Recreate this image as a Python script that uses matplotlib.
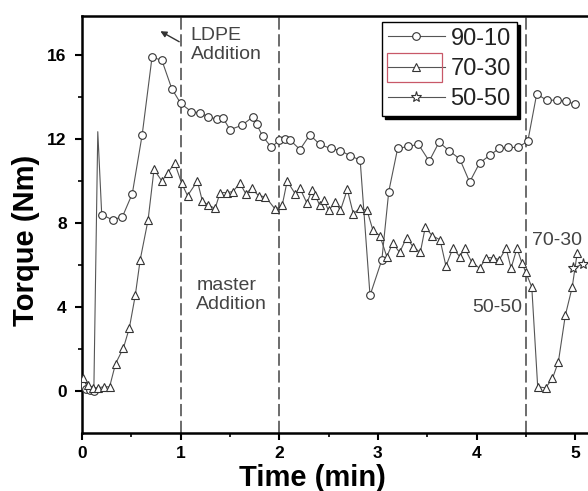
import numpy as np
import matplotlib
matplotlib.use("Agg")
import matplotlib.pyplot as plt
from matplotlib.patches import Rectangle

plt.rcParams['font.family'] = ['Liberation Sans', 'DejaVu Sans']

# Torque traces during mixing (time in min, torque in Nm)
time_9010 = [0.00, 0.04, 0.08, 0.12, 0.16, 0.20, 0.31, 0.41, 0.51, 0.61, 0.71, 0.81,
             0.91, 1.00, 1.11, 1.20, 1.28, 1.37, 1.43, 1.50, 1.62, 1.73, 1.77, 1.83,
             1.92, 2.00, 2.06, 2.11, 2.21, 2.31, 2.41, 2.52, 2.62, 2.72, 2.82, 2.92,
             3.04, 3.11, 3.20, 3.31, 3.41, 3.52, 3.62, 3.72, 3.83, 3.93, 4.03, 4.14,
             4.23, 4.32, 4.42, 4.52, 4.61, 4.71, 4.82, 4.91, 5.00]
torque_9010 = [0.3, 0.1, 0.05, 0.0, 12.35, 8.4, 8.15, 8.3, 9.4, 12.2, 15.9, 15.75,
               14.4, 13.7, 13.3, 13.25, 13.05, 12.95, 13.0, 12.45, 12.65, 13.05, 12.7, 12.15,
               11.6, 11.95, 12.0, 11.95, 11.5, 12.2, 11.75, 11.55, 11.45, 11.2, 11.0, 4.55,
               6.25, 9.5, 11.55, 11.65, 11.75, 10.95, 11.85, 11.45, 11.05, 9.95, 10.85, 11.25,
               11.55, 11.6, 11.6, 11.9, 14.15, 13.85, 13.85, 13.8, 13.65]

time_7030 = [0.01, 0.06, 0.11, 0.16, 0.22, 0.28, 0.34, 0.42, 0.48, 0.54, 0.59, 0.67,
             0.73, 0.81, 0.87, 0.94, 1.01, 1.07, 1.17, 1.22, 1.28, 1.35, 1.40, 1.47,
             1.53, 1.60, 1.66, 1.72, 1.79, 1.86, 1.96, 2.03, 2.08, 2.16, 2.21, 2.28,
             2.33, 2.36, 2.41, 2.45, 2.50, 2.57, 2.62, 2.69, 2.75, 2.82, 2.89, 2.95,
             3.02, 3.09, 3.15, 3.22, 3.29, 3.36, 3.43, 3.48, 3.55, 3.63, 3.69, 3.76,
             3.83, 3.88, 3.95, 4.03, 4.10, 4.17, 4.23, 4.30, 4.35, 4.41, 4.46, 4.50,
             4.56, 4.62, 4.70, 4.77, 4.83, 4.90, 4.97, 5.02]
torque_7030 = [0.6, 0.3, 0.15, 0.15, 0.2, 0.2, 1.3, 2.05, 3.0, 4.55, 6.25, 8.15,
               10.55, 10.0, 10.4, 10.85, 9.9, 9.3, 10.0, 9.05, 8.85, 8.7, 9.45, 9.45,
               9.5, 9.9, 9.4, 9.65, 9.3, 9.25, 8.65, 8.85, 10.0, 9.4, 9.65, 8.95,
               9.55, 9.35, 8.85, 9.1, 8.6, 9.0, 8.6, 9.6, 8.45, 8.7, 8.6, 7.65,
               7.4, 6.4, 7.05, 6.6, 7.3, 6.85, 6.6, 7.8, 7.4, 7.2, 5.95, 6.8,
               6.4, 6.8, 6.15, 5.85, 6.35, 6.35, 6.25, 6.8, 5.85, 6.8, 6.1, 5.65,
               4.95, 0.2, 0.15, 0.6, 1.4, 3.6, 4.95, 6.55]

time_5050 = [4.98, 5.08]
torque_5050 = [5.85, 6.05]

event_times = [1.0, 2.0, 4.5]

x_ticks = [0, 1, 2, 3, 4, 5]
y_ticks = [0, 4, 8, 12, 16]

fig = plt.figure(figsize=(5.88, 4.91), dpi=100)
ax = fig.add_axes([82 / 588, 58 / 491, 506 / 588, 417 / 491])

line_col = '#555555'
mk_col = '#333333'

# the short torque spike right after loading carries no symbol
spike = [i for i, (t, q) in enumerate(zip(time_9010, torque_9010)) if t < 0.2 and q > 10]
marks_9010 = [i for i in range(len(time_9010)) if i not in spike]

ax.plot(time_9010, torque_9010, color=line_col, lw=0.8, marker='o', ms=5.5,
        mfc='white', mec=mk_col, mew=0.8, markevery=marks_9010, label='90-10', zorder=3)
ax.plot(time_7030, torque_7030, color=line_col, lw=0.8, marker='^', ms=6,
        mfc='white', mec=mk_col, mew=0.8, label='70-30', zorder=3)
ax.plot(time_5050, torque_5050, color=line_col, lw=0.8, marker='*', ms=8,
        mfc='white', mec=mk_col, mew=0.8, label='50-50', zorder=3)

for t in event_times:
    ax.axvline(t, color='#444444', lw=1.1, dashes=(8, 3), zorder=2)

ax.set_xlim(0, 5.13)
ax.set_ylim(-2, 17.86)
ax.set_xticks(x_ticks)
ax.set_yticks(y_ticks)
ax.set_xticks(np.arange(0.5, 5.1, 1.0), minor=True)
ax.set_yticks(np.arange(2, 17, 4), minor=True)

for side in ('left', 'bottom', 'top'):
    ax.spines[side].set_linewidth(1.8)
ax.spines['right'].set_visible(False)

ax.tick_params(which='major', direction='out', length=5, width=1.5, labelsize=12.5, pad=6)
ax.tick_params(axis='x', which='major', pad=4)
ax.tick_params(which='minor', direction='out', length=3, width=1.2)
ax.tick_params(top=False, right=False, which='both')
for lab in ax.get_xticklabels() + ax.get_yticklabels():
    lab.set_fontweight('bold')

ax.set_xlabel('Time (min)', fontsize=21, fontweight='bold')
ax.set_ylabel('Torque (Nm)', fontsize=21, fontweight='bold')
ax.xaxis.set_label_coords(0.455, -0.075)
ax.yaxis.set_label_coords(-0.083, 0.463)

txt_col = '#444444'
ax.annotate('', xy=(0.77, 17.2), xytext=(1.01, 16.57),
            arrowprops=dict(arrowstyle='-|>', color='#333333', lw=1.0, mutation_scale=9))
ax.text(1.10, 17.35, 'LDPE\nAddition', fontsize=14, color=txt_col, va='top', ha='left',
        linespacing=1.2)
ax.text(1.16, 5.45, 'master\nAddition', fontsize=14, color=txt_col, va='top', ha='left',
        linespacing=1.2)
ax.text(4.56, 6.95, '70-30', fontsize=14, color=txt_col, va='baseline', ha='left')
ax.text(4.46, 3.76, '50-50', fontsize=14, color=txt_col, va='baseline', ha='right')

leg = ax.legend(loc='upper left', bbox_to_anchor=(0.593, 0.986), fontsize=17,
                frameon=True, fancybox=False, edgecolor='black', borderaxespad=0,
                borderpad=0.25, handlelength=2.4, handletextpad=0.25, labelspacing=0.35,
                shadow={'facecolor': 'black', 'edgecolor': 'black', 'alpha': 1})
leg.get_frame().set_linewidth(1.0)
for txt in leg.get_texts():
    txt.set_color('#222222')

# thin highlight box around the 70-30 key
ax.add_patch(Rectangle((0.603, 0.842), 0.108, 0.069, transform=ax.transAxes,
                       fill=False, edgecolor='#c85868', lw=0.9, zorder=10))

fig.savefig('out.png', dpi=100)
